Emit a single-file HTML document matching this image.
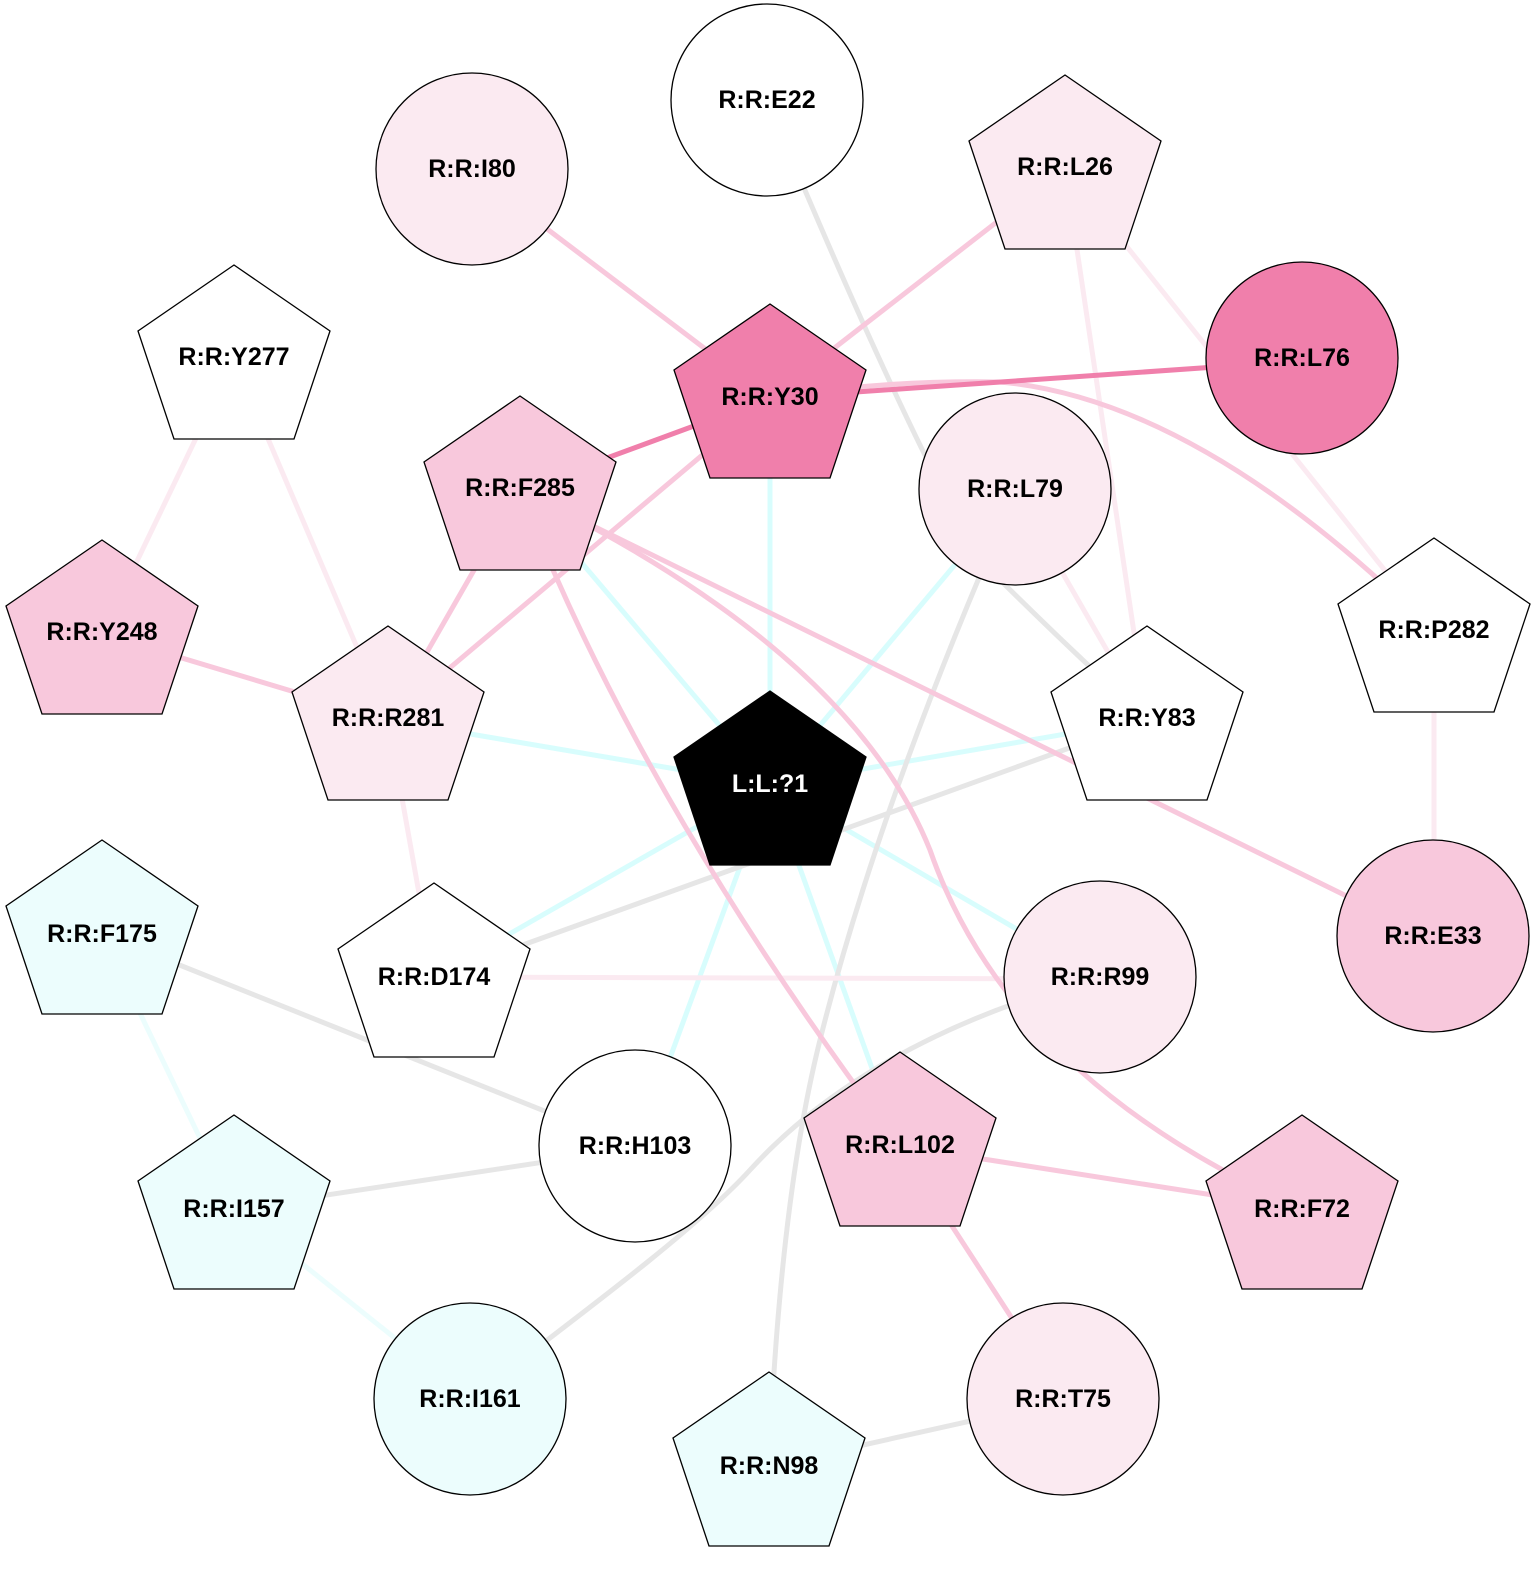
<!DOCTYPE html>
<html><head><meta charset="utf-8"><style>
html,body{margin:0;padding:0;background:#fff;}
text{font-family:"Liberation Sans",Arial,sans-serif;font-weight:bold;font-size:25px;text-anchor:middle;dominant-baseline:central;}
</style></head><body>
<svg width="1540" height="1574" viewBox="0 0 1540 1574" xmlns="http://www.w3.org/2000/svg">
<g fill="none" stroke-width="5">
<g stroke="#d8fdfd">
<line x1="770" y1="785" x2="770" y2="398"/>
<line x1="770" y1="785" x2="520" y2="490"/>
<line x1="770" y1="785" x2="1016" y2="492"/>
<line x1="770" y1="785" x2="388" y2="720"/>
<line x1="770" y1="785" x2="1147" y2="720"/>
<line x1="770" y1="785" x2="434" y2="977"/>
<line x1="770" y1="785" x2="637" y2="1148"/>
<line x1="770" y1="785" x2="1102" y2="979"/>
<line x1="770" y1="785" x2="900" y2="1146"/>
</g>
<g stroke="#ecfdfd">
<line x1="102" y1="934" x2="234" y2="1209"/>
<line x1="234" y1="1209" x2="472" y2="1400"/>
</g>
<g stroke="#e6e6e6">
<path d="M767,100 Q900,420 980,560 Q1060,640 1147,720"/>
<path d="M1016,492 Q880,800 820,1040 Q780,1200 769,1466"/>
<line x1="1147" y1="720" x2="434" y2="977"/>
<line x1="102" y1="934" x2="637" y2="1148"/>
<line x1="637" y1="1148" x2="234" y2="1209"/>
<path d="M1100,977 C900,1030 800,1115 750,1170 S600,1300 470,1399"/>
<line x1="769" y1="1466" x2="1065" y2="1400"/>
</g>
<g stroke="#fbeaf1">
<line x1="234" y1="359" x2="102" y2="634"/>
<line x1="234" y1="359" x2="388" y2="720"/>
<line x1="1065" y1="169" x2="1147" y2="720"/>
<line x1="1065" y1="169" x2="1434" y2="632"/>
<line x1="1016" y1="492" x2="1147" y2="720"/>
<line x1="388" y1="720" x2="434" y2="977"/>
<line x1="434" y1="977" x2="1102" y2="979"/>
<line x1="1434" y1="632" x2="1434" y2="939"/>
</g>
<g stroke="#f8c8dc">
<line x1="472" y1="172" x2="770" y2="398"/>
<line x1="1065" y1="169" x2="770" y2="398"/>
<line x1="770" y1="398" x2="388" y2="720"/>
<path d="M770,398 Q880,380 1000,382 Q1200,400 1434,632"/>
<line x1="520" y1="490" x2="388" y2="720"/>
<line x1="520" y1="490" x2="1434" y2="939"/>
<path d="M520,490 Q640,800 900,1146"/>
<path d="M520,490 Q850,650 930,850 Q1010,1080 1302,1209"/>
<line x1="102" y1="634" x2="388" y2="720"/>
<line x1="900" y1="1146" x2="1302" y2="1209"/>
<line x1="900" y1="1146" x2="1065" y2="1400"/>
</g>
<g stroke="#f07fab" stroke-width="5">
<line x1="770" y1="398" x2="1302" y2="361"/>
<line x1="770" y1="398" x2="520" y2="490"/>
</g>
</g>
<defs>
<polygon id="pg" points="0,-94 96,-28 60,80 -60,80 -96,-28"/>
</defs>
<g stroke="#000" stroke-width="1.3">
<circle cx="767" cy="100" r="96" fill="#fff"/>
<circle cx="472" cy="169" r="96" fill="#fbeaf1"/>
<use href="#pg" x="1065" y="169" fill="#fbeaf1"/>
<use href="#pg" x="234" y="359" fill="#fff"/>
<use href="#pg" x="770" y="398" fill="#f07fab"/>
<circle cx="1302" cy="358" r="96" fill="#f07fab"/>
<use href="#pg" x="520" y="490" fill="#f8c8dc"/>
<circle cx="1015" cy="489" r="96" fill="#fbeaf1"/>
<use href="#pg" x="102" y="634" fill="#f8c8dc"/>
<use href="#pg" x="1434" y="632" fill="#fff"/>
<use href="#pg" x="388" y="720" fill="#fbeaf1"/>
<use href="#pg" x="1147" y="720" fill="#fff"/>
<use href="#pg" x="770" y="785" fill="#000"/>
<use href="#pg" x="102" y="934" fill="#ecfdfd"/>
<use href="#pg" x="434" y="977" fill="#fff"/>
<circle cx="1100" cy="977" r="96" fill="#fbeaf1"/>
<circle cx="1433" cy="936" r="96" fill="#f8c8dc"/>
<circle cx="635" cy="1146" r="96" fill="#fff"/>
<use href="#pg" x="900" y="1146" fill="#f8c8dc"/>
<use href="#pg" x="234" y="1209" fill="#ecfdfd"/>
<use href="#pg" x="1302" y="1209" fill="#f8c8dc"/>
<circle cx="470" cy="1399" r="96" fill="#ecfdfd"/>
<circle cx="1063" cy="1399" r="96" fill="#fbeaf1"/>
<use href="#pg" x="769" y="1466" fill="#ecfdfd"/>
</g>
<g fill="#000">
<text x="767" y="100">R:R:E22</text>
<text x="472" y="169">R:R:I80</text>
<text x="1065" y="167">R:R:L26</text>
<text x="234" y="357">R:R:Y277</text>
<text x="770" y="397">R:R:Y30</text>
<text x="1302" y="358">R:R:L76</text>
<text x="520" y="488">R:R:F285</text>
<text x="1015" y="489">R:R:L79</text>
<text x="102" y="632">R:R:Y248</text>
<text x="1434" y="630">R:R:P282</text>
<text x="388" y="718">R:R:R281</text>
<text x="1147" y="718">R:R:Y83</text>
<text x="102" y="934">R:R:F175</text>
<text x="434" y="977">R:R:D174</text>
<text x="1100" y="977">R:R:R99</text>
<text x="1433" y="936">R:R:E33</text>
<text x="635" y="1146">R:R:H103</text>
<text x="900" y="1145">R:R:L102</text>
<text x="234" y="1209">R:R:I157</text>
<text x="1302" y="1209">R:R:F72</text>
<text x="470" y="1399">R:R:I161</text>
<text x="1063" y="1399">R:R:T75</text>
<text x="769" y="1466">R:R:N98</text>
</g>
<text x="770" y="784" fill="#fff">L:L:?1</text>
</svg>
</body></html>
